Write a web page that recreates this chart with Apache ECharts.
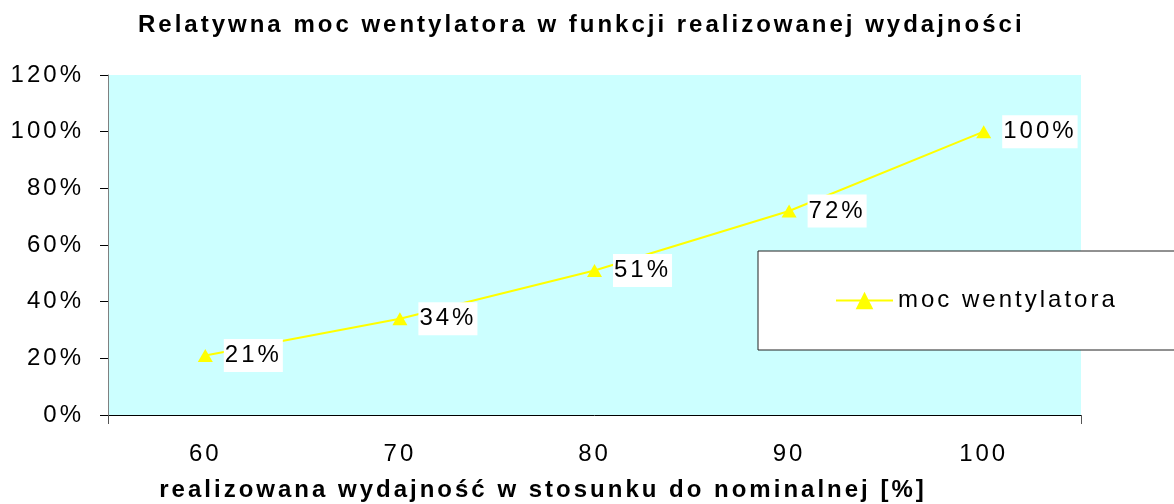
<!DOCTYPE html>
<html>
<head>
<meta charset="utf-8">
<script src="https://cdn.jsdelivr.net/npm/echarts@6/dist/echarts.min.js"></script>
<style>
  html, body { margin: 0; padding: 0; background: #fff; }
  #chart { width: 1174px; height: 504px; }
</style>
</head>
<body>
<div id="chart"></div>
<script>
const categories = ['60', '70', '80', '90', '100'];
const power = [21, 34, 51, 72, 100];
const seriesName = 'moc wentylatora';
const titleText = 'Relatywna moc wentylatora w funkcji realizowanej wydajności';
const xName = 'realizowana wydajność w stosunku do nominalnej [%]';

// the original chart has widely spaced letters everywhere
const SPACING = '3px';
const proto = CanvasRenderingContext2D.prototype;
const origFill = proto.fillText;
const origMeasure = proto.measureText;
proto.fillText = function (...args) {
  this.letterSpacing = SPACING;
  return origFill.apply(this, args);
};
proto.measureText = function (...args) {
  this.letterSpacing = SPACING;
  return origMeasure.apply(this, args);
};

const font = 'Liberation Sans, Arial, sans-serif';
const chart = echarts.init(document.getElementById('chart'));

const options = {
  animation: false,
  textStyle: { fontFamily: font },
  title: {
    text: titleText,
    left: 138,
    top: 12,
    padding: 0,
    textStyle: { fontSize: 24, fontWeight: 'bold', color: '#000', fontFamily: font },
  },
  grid: {
    left: 108,
    right: 93,
    top: 75,
    bottom: 89,
    outerBoundsMode: 'none',
    containLabel: false,
    show: true,
    backgroundColor: '#CCFFFF',
    borderWidth: 0,
  },
  legend: {
    data: [seriesName],
    left: 758,
    top: 251,
    padding: [36, 80, 36, 77],
    backgroundColor: '#fff',
    borderColor: '#222',
    borderWidth: 1,
    borderRadius: 0,
    itemWidth: 57,
    itemHeight: 22,
    textStyle: { fontSize: 24, color: '#000', fontFamily: font },
  },
  xAxis: {
    type: 'category',
    data: categories,
    boundaryGap: true,
    name: xName,
    nameLocation: 'middle',
    nameGap: 62,
    nameTextStyle: {
      fontSize: 24,
      fontWeight: 'bold',
      color: '#000',
      padding: [0, 103, 0, 0],
    },
    axisLine: { lineStyle: { color: '#000', width: 1 } },
    axisTick: {
      show: true,
      length: 9,
      interval: (index) => index === 0,
      lineStyle: { color: '#555' },
    },
    axisLabel: { fontSize: 24, color: '#000', margin: 26 },
  },
  yAxis: {
    type: 'value',
    min: 0,
    max: 120,
    interval: 20,
    axisLine: { show: true, lineStyle: { color: '#808080', width: 1 } },
    axisTick: { show: true, length: 8, lineStyle: { color: '#000' } },
    splitLine: { show: false },
    axisLabel: { fontSize: 24, color: '#000', margin: 24, formatter: '{value}%' },
  },
  series: [
    {
      name: seriesName,
      type: 'line',
      data: power,
      symbol: 'triangle',
      symbolSize: [15, 13],
      lineStyle: { color: '#FFFF00', width: 2 },
      itemStyle: { color: '#FFFF00' },
      label: {
        show: true,
        position: 'right',
        distance: 11,
        formatter: '{c}%',
        fontSize: 24,
        color: '#000',
        backgroundColor: '#fff',
        padding: [3, 1, 3, 1],
      },
    },
  ],
};

chart.setOption(options);
</script>
</body>
</html>
